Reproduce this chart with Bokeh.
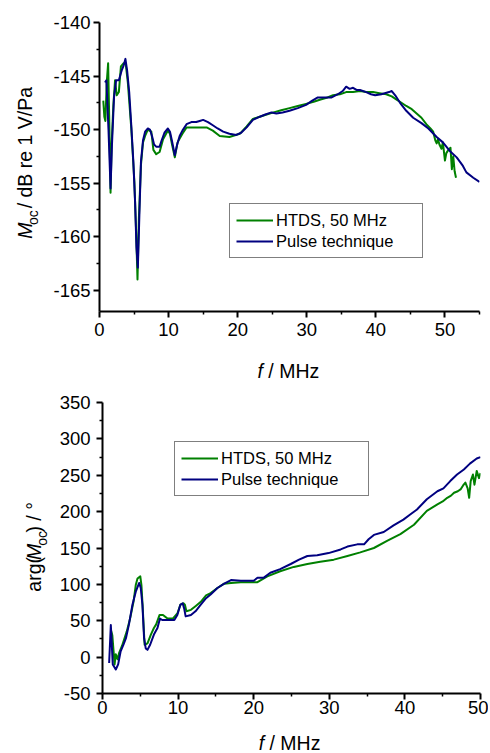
import math
from bokeh.plotting import figure
from bokeh.models import Range1d, FixedTicker, Legend, LegendItem, Label
from bokeh.layouts import column, row
from bokeh.embed import file_html
from bokeh.resources import INLINE

# ---------------- data ----------------
# Top panel: sensitivity level M_oc / dB re 1 V/Pa
htds_f_top = [0.55, 0.7, 0.85, 1.05, 1.25, 1.4, 1.6, 1.75, 2.0, 2.25, 2.5, 2.8, 3.1, 3.5, 3.8,
              4.1, 4.6, 5.05, 5.3, 5.5, 5.7, 6.0, 6.3, 6.6, 7.0, 7.5, 7.8, 8.2, 8.7, 9.2, 9.9,
              10.2, 10.5, 10.9, 11.3, 12.0, 12.6, 13.5, 14.5, 15.5, 16.4, 17.4, 18.8, 20.3,
              21.3, 22.2, 23.2, 24.2, 25.2, 26.3, 27.5, 28.7, 29.9, 31.0, 32.0, 33.0, 33.8,
              34.8, 35.7, 36.7, 37.7, 38.6, 39.6, 40.5, 41.5, 42.3, 43.0, 43.7, 44.4, 45.2,
              45.9, 46.6, 47.3, 47.9, 48.3, 48.6, 48.8, 49.0, 49.2, 49.5, 49.7, 50.0, 50.2,
              50.5, 50.8, 51.0, 51.2, 51.4, 51.6]
htds_m_top = [-147.3, -148.8, -149.2, -145.6, -143.8, -148.7, -155.9, -151.5, -147.8, -145.4,
              -146.8, -146.5, -144.1, -143.8, -143.9, -145.6, -149.9, -154.9, -159.5, -164.0,
              -158.3, -153.3, -151.2, -150.6, -150.0, -150.2, -151.9, -152.3, -152.1, -150.9,
              -150.1, -150.4, -151.4, -152.6, -151.2, -150.4, -149.8, -149.8, -149.8, -149.8,
              -150.1, -150.6, -150.7, -150.4, -149.7, -149.0, -148.8, -148.6, -148.4, -148.2,
              -148.0, -147.8, -147.6, -147.4, -147.2, -147.0, -146.8, -146.7, -146.5, -146.5,
              -146.4, -146.5, -146.5, -146.6, -146.7, -146.9, -147.2, -147.5, -147.8, -148.1,
              -148.5, -148.9, -149.5, -149.9, -150.2, -151.0, -151.3, -150.9, -151.4, -151.8,
              -151.2, -152.9, -152.2, -151.9, -151.7, -153.7, -152.5, -153.9, -154.5]

pulse_f_top = [0.8, 1.0, 1.3, 1.6, 1.8, 2.1, 2.4, 2.8, 3.2, 3.5, 3.75, 4.0, 4.3, 4.6, 4.9, 5.15,
               5.35, 5.55, 5.75, 6.0, 6.3, 6.6, 7.0, 7.3, 7.6, 7.9, 8.2, 8.7, 9.0, 9.4, 9.9,
               10.2, 10.5, 10.9, 11.2, 11.6, 12.0, 12.6, 13.3, 14.0, 14.5, 15.0, 15.7, 16.4,
               17.1, 17.9, 18.8, 19.8, 20.5, 21.3, 22.2, 23.2, 24.0, 24.9, 25.6, 26.5, 27.5,
               28.7, 29.9, 30.8, 31.6, 32.5, 33.6, 34.5, 35.2, 35.7, 36.2, 36.7, 37.2, 37.7,
               38.6, 39.3, 39.9, 40.8, 41.9, 42.3, 42.8, 43.5, 44.4, 45.4, 46.6, 47.6, 48.8,
               49.7, 50.7, 51.7, 52.6, 53.1, 54.1, 55.0]
pulse_m_top = [-145.6, -145.4, -150.0, -155.5, -151.5, -147.0, -145.4, -145.4, -144.5, -144.0,
               -143.4, -144.5, -146.5, -149.6, -153.0, -156.8, -161.0, -162.9, -158.5, -153.0,
               -151.0, -150.2, -149.9, -150.0, -150.6, -151.4, -151.6, -151.6, -151.0, -150.3,
               -149.9, -150.2, -151.1, -152.4, -151.5, -150.6, -150.1, -149.5, -149.3, -149.3,
               -149.2, -149.1, -149.3, -149.6, -149.9, -150.2, -150.4, -150.5, -150.3, -149.8,
               -149.1, -148.8, -148.6, -148.4, -148.5, -148.4, -148.25, -148.0, -147.7, -147.3,
               -147.0, -147.0, -147.0, -146.7, -146.4, -146.0, -146.2, -146.1, -146.3, -146.3,
               -146.5, -146.7, -146.8, -146.7, -146.5, -146.4, -146.8, -147.5, -148.25, -148.9,
               -149.4, -149.9, -150.7, -151.2, -152.0, -152.6, -153.4, -154.0, -154.5, -154.9]

# Bottom panel: phase arg(M_oc) / degree
htds_f_bot = [1.1, 1.3, 1.6, 1.76, 2.0, 2.2, 2.6, 3.2, 3.65, 4.1, 4.4, 4.63, 5.0, 5.15, 5.3,
              5.57, 5.95, 6.4, 6.8, 7.1, 7.55, 8.0, 8.6, 9.3, 9.9, 10.3, 10.7, 10.9, 11.1, 11.7,
              12.3, 13.0, 13.7, 14.3, 15.2, 16.1, 17.0, 18.3, 20.5, 21.8, 23.5, 25.3, 27.1,
              28.8, 30.6, 32.4, 34.1, 35.9, 37.7, 39.4, 41.2, 42.9, 44.3, 45.0, 45.6, 46.1,
              46.5, 47.0, 47.4, 47.7, 48.0, 48.3, 48.5, 48.7, 49.0, 49.2, 49.5, 49.8, 50.0]
htds_p_bot = [38, 30, -10, 4, -3, 6, 16, 35, 53, 76, 99, 108, 111, 99, 72, 17, 19, 31, 40, 45,
              58, 58, 53, 53, 60, 72, 74, 72, 63, 65, 70, 76, 85, 88, 95, 101, 102, 103, 103,
              111, 118, 124, 128, 131, 134, 139, 144, 150, 160, 169, 182, 201, 210, 214, 219,
              222, 226, 228, 231, 236, 240, 232, 219, 242, 251, 237, 256, 246, 253]

pulse_f_bot = [0.88, 1.1, 1.36, 1.76, 2.07, 2.4, 2.8, 3.1, 3.5, 3.96, 4.4, 4.85, 5.06, 5.28,
               5.5, 5.72, 5.95, 6.3, 6.8, 7.27, 7.6, 7.9, 8.6, 9.5, 9.9, 10.3, 10.6, 10.8, 11.0,
               11.7, 12.3, 13.0, 13.7, 14.3, 15.2, 16.1, 17.0, 18.3, 20.0, 20.5, 21.3, 22.2,
               23.5, 24.9, 26.0, 27.1, 28.4, 29.9, 31.5, 32.4, 33.7, 34.6, 35.2, 35.9, 37.2,
               38.5, 39.8, 40.7, 41.6, 42.9, 44.3, 45.1, 46.0, 46.9, 47.8, 48.6, 49.5, 50.0]
pulse_p_bot = [-8, 44, -10, -17, -10, 8, 18, 26, 45, 72, 90, 102, 95, 72, 26, 12, 10, 17, 31,
               40, 53, 51, 51, 51, 58, 72, 74, 67, 56, 58, 63, 72, 81, 86, 95, 101, 106, 105,
               105, 109, 109, 116, 121, 128, 134, 139, 140, 143, 148, 152, 155, 155, 162, 168,
               172, 181, 189, 196, 203, 217, 228, 232, 242, 251, 258, 266, 273, 275]

series_names = ["HTDS, 50 MHz", "Pulse technique"]
x_ticks_top = [0, 10, 20, 30, 40, 50]
x_minor_top = [5, 15, 25, 35, 45, 55]
y_ticks_top = [-165, -160, -155, -150, -145, -140]
y_minor_top = [-162.5, -157.5, -152.5, -147.5, -142.5]
x_ticks_bot = [0, 10, 20, 30, 40, 50]
x_minor_bot = [5, 15, 25, 35, 45]
y_ticks_bot = [-50, 0, 50, 100, 150, 200, 250, 300, 350]
y_minor_bot = [-25, 25, 75, 125, 175, 225, 275, 325]

GREEN = "#008000"
NAVY = "#000080"
FONT = "Liberation Sans"
A = math.pi / 2
BL = 7  # offset between requested and drawn alphabetic baseline

# ---------------- layout constants (page pixels) ----------------
TOTAL_W = 488
S1_W, R1_H = 48, 350
X1_H = 40
S2_W, R2_H = 50, 340
X2_H = 22


def style(p, xt, xm, yt, ym, x_standoff, y_standoff):
    p.title.visible = False
    p.outline_line_color = None
    p.xgrid.visible = False
    p.ygrid.visible = False
    p.background_fill_color = "white"
    p.border_fill_color = "white"
    p.xaxis.ticker = FixedTicker(ticks=xt, minor_ticks=xm)
    p.yaxis.ticker = FixedTicker(ticks=yt, minor_ticks=ym)
    p.xaxis.major_label_overrides = {t: str(t) for t in xt}
    p.yaxis.major_label_overrides = {t: str(t) for t in yt}
    for ax, so in ((p.xaxis, x_standoff), (p.yaxis, y_standoff)):
        ax.axis_line_width = 2
        ax.axis_line_color = "black"
        ax.major_tick_line_width = 2
        ax.minor_tick_line_width = 1.5
        ax.major_tick_line_color = "black"
        ax.minor_tick_line_color = "black"
        ax.major_tick_out = 6
        ax.major_tick_in = 0
        ax.minor_tick_out = 3
        ax.minor_tick_in = 0
        ax.major_label_text_font = FONT
        ax.major_label_text_font_size = "18.5px"
        ax.major_label_text_color = "black"
        ax.major_label_standoff = so
        ax.axis_label = None


def strip(w, h):
    s = figure(width=w, height=h, x_range=Range1d(0, w), y_range=Range1d(0, h),
               x_axis_type=None, y_axis_type=None, output_backend="svg",
               toolbar_location=None, min_border=0)
    s.title.visible = False
    s.outline_line_color = None
    s.background_fill_color = "white"
    s.border_fill_color = "white"
    return s


def lab(p, x, y, text, size="19.5px", italic=False, angle=0.0):
    p.add_layout(Label(x=x, y=y, text=text, angle=angle,
                       text_font=FONT, text_font_size=size,
                       text_font_style="italic" if italic else "normal",
                       text_color="black", text_align="left",
                       text_baseline="alphabetic"))


def legend(p, items, loc, label_width):
    lg = Legend(items=items, location=loc, padding=6, spacing=1, margin=0,
                glyph_width=37, glyph_height=20, label_height=20, label_standoff=3,
                label_width=label_width,
                label_text_font=FONT, label_text_font_size="16.5px",
                label_text_color="black",
                border_line_color="black", border_line_width=1,
                background_fill_color="white", background_fill_alpha=1.0)
    p.add_layout(lg)


# ---------------- top plot ----------------
P1_W = TOTAL_W - S1_W
p1 = figure(width=P1_W, height=R1_H, x_range=Range1d(0, 55), y_range=Range1d(-167, -140),
            output_backend="svg", toolbar_location=None,
            min_border_left=51, min_border_right=P1_W - 51 - 380,
            min_border_top=22, min_border_bottom=R1_H - 22 - 289)
style(p1, x_ticks_top, x_minor_top, y_ticks_top, y_minor_top, 5, 3)
g1 = p1.line(htds_f_top, htds_m_top, line_color=GREEN, line_width=2, line_join="round")
b1 = p1.line(pulse_f_top, pulse_m_top, line_color=NAVY, line_width=2, line_join="round")
legend(p1, [LegendItem(label=series_names[0], renderers=[g1]),
            LegendItem(label=series_names[1], renderers=[b1])], (130, 53), 140)

# y title of the top plot (strip: page x 0..48, page y 0..350)
y1 = strip(S1_W, R1_H)
sy1 = lambda py: R1_H - py
lab(y1, 31 - BL, sy1(262), "M", italic=True, angle=A)
lab(y1, 39 - BL, sy1(245.3), "oc", size="14px", angle=A)
lab(y1, 31 - BL, sy1(225.1), "/ dB re 1 V/Pa", angle=A)

# x title of the top plot (strip: page y 350..390)
x1 = strip(TOTAL_W, X1_H)
sx1 = lambda py: (R1_H + X1_H) - py
lab(x1, 257, sx1(377.5 - BL), "f", italic=True)
lab(x1, 267.8, sx1(377.5 - BL), "/ MHz")

# ---------------- bottom plot ----------------
P2_W = TOTAL_W - S2_W
p2 = figure(width=P2_W, height=R2_H, x_range=Range1d(0, 50), y_range=Range1d(-50, 350),
            output_backend="svg", toolbar_location=None,
            min_border_left=52, min_border_right=P2_W - 52 - 378,
            min_border_top=12, min_border_bottom=R2_H - 12 - 291)
style(p2, x_ticks_bot, x_minor_bot, y_ticks_bot, y_minor_bot, 1, 6)
g2 = p2.line(htds_f_bot, htds_p_bot, line_color=GREEN, line_width=2, line_join="round")
b2 = p2.line(pulse_f_bot, pulse_p_bot, line_color=NAVY, line_width=2, line_join="round")
legend(p2, [LegendItem(label=series_names[0], renderers=[g2]),
            LegendItem(label=series_names[1], renderers=[b2])], (72, 197), 141)

# y title of the bottom plot (strip: page x 0..50, page y 390..730)
top2 = R1_H + X1_H
y2 = strip(S2_W, R2_H)
sy2 = lambda py: R2_H - (py - top2)
lab(y2, 40 - BL, sy2(611), "arg(", angle=A)
lab(y2, 40 - BL, sy2(574), "M", italic=True, angle=A)
lab(y2, 48 - BL, sy2(557.3), "oc", size="14px", angle=A)
lab(y2, 40 - BL, sy2(542), ") / \u00b0", angle=A)

# x title of the bottom plot (strip: page y 730..752)
x2 = strip(TOTAL_W, X2_H)
sx2 = lambda py: (top2 + R2_H + X2_H) - py
lab(x2, 258.3, sx2(749 - BL), "f", italic=True)
lab(x2, 269, sx2(749 - BL), "/ MHz")

layout = column(row(y1, p1, spacing=0), x1, row(y2, p2, spacing=0), x2, spacing=0)
open("out.html", "w").write(file_html(layout, INLINE))
